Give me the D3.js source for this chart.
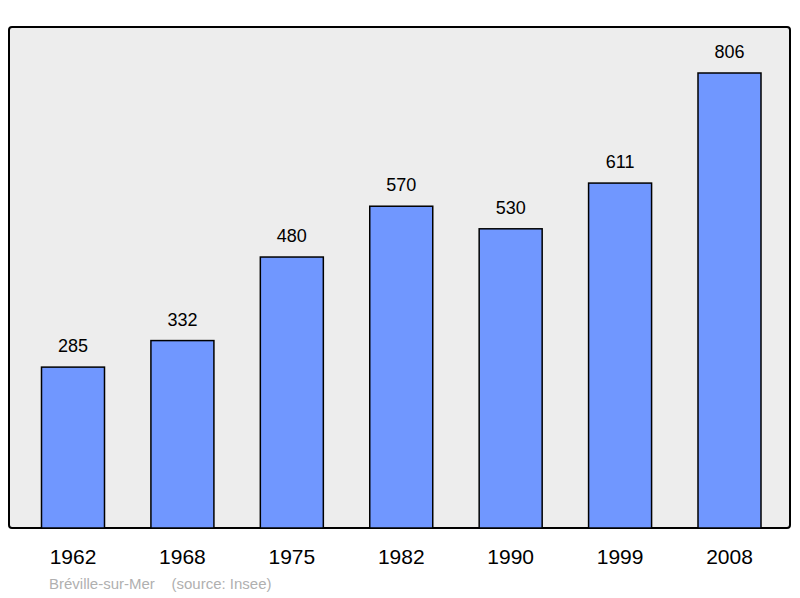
<!DOCTYPE html>
<html>
<head>
<meta charset="utf-8">
<script src="https://cdn.jsdelivr.net/npm/d3@7"></script>
<style>body{margin:0;background:#fff}</style>
</head>
<body>
<svg id="chart" width="800" height="598"></svg>
<script>
"use strict";

// Data
var years = ["1962", "1968", "1975", "1982", "1990", "1999", "2008"];
var population = [285, 332, 480, 570, 530, 611, 806];

var svg = d3.select("#chart");
var font = "Liberation Sans, Arial, sans-serif";

// Frame
svg.append("rect")
  .attr("x", 9).attr("y", 27).attr("width", 781).attr("height", 501)
  .attr("rx", 3)
  .attr("fill", "#ededed").attr("stroke", "#000").attr("stroke-width", 2);

var x = d3.scalePoint().domain(years).range([73, 729.5]);
var y = d3.scaleLinear().domain([0, 806]).range([528, 73]);
var barW = 63;

svg.selectAll(".bar").data(years).enter().append("rect")
  .attr("x", function(d) { return x(d) - barW / 2; })
  .attr("y", function(d, i) { return y(population[i]); })
  .attr("width", barW)
  .attr("height", function(d, i) { return 528 - y(population[i]); })
  .attr("fill", "#7097ff").attr("stroke", "#000").attr("stroke-width", 1.5);

svg.selectAll(".val").data(years).enter().append("text")
  .attr("x", function(d) { return x(d); })
  .attr("y", function(d, i) { return y(population[i]) - 15; })
  .attr("text-anchor", "middle")
  .attr("font-family", font).attr("font-size", 18)
  .text(function(d, i) { return population[i]; });

svg.selectAll(".yr").data(years).enter().append("text")
  .attr("x", function(d) { return x(d); })
  .attr("y", 564)
  .attr("text-anchor", "middle")
  .attr("font-family", font).attr("font-size", 21)
  .text(function(d) { return d; });

svg.append("text")
  .attr("x", 49).attr("y", 589)
  .attr("font-family", font).attr("font-size", 15).attr("fill", "#b0b0b0")
  .attr("xml:space", "preserve")
  .text("Bréville-sur-Mer    (source: Insee)");
</script>
</body>
</html>
